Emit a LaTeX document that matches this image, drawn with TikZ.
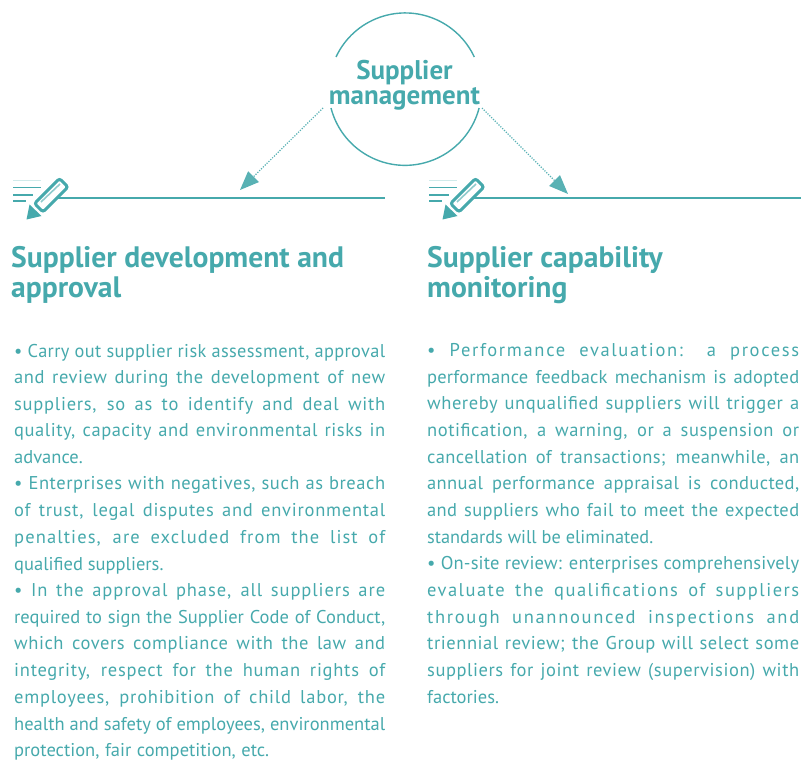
\documentclass[tikz,border=0pt]{standalone}
\usepackage{fontspec}
\setmainfont{PT Sans}
\usepackage{graphicx}
\usetikzlibrary{arrows.meta}
\definecolor{teal1}{HTML}{46A9AC}
\newsavebox{\fitbox}
\newcommand{\fitline}[2]{\sbox{\fitbox}{#2}\ifdim\wd\fitbox>#1\resizebox{#1}{\height}{\usebox{\fitbox}}\else\makebox[#1][s]{#2}\fi}
\newcommand{\bodyline}[6]{\node[bodytext] (#1) at (#2,#3) {\addfontfeature{LetterSpace=#5}\fitline{#4}{#6}};}
\newcommand{\plainline}[4]{\node[bodytext] (#1) at (#2,#3) {#4};}
\newcommand{\pencilicon}[1]{
  \begin{scope}[shift={(#1,0)}]
    \draw[teal1!25,line width=1pt] (13,180.5) -- (41,180.5);
    \draw[iconline] (13,187.5) -- (41,187.5);
    \draw[iconline] (13,195) -- (33,195);
    \draw[iconline] (13,201) -- (26,201);
    \draw[teal1,line width=3pt,rounded corners=2.5pt,fill=white] (59.5,178.5) -- (68,187) -- (43,212) -- (34.5,203.5) -- cycle;
    \draw[teal1!60,line width=1.6pt] (41,202) -- (60,184);
    \fill[teal1] (29.5,204.5) -- (41.5,216) -- (26.5,219.5) -- cycle;
  \end{scope}}
\tikzset{
  bodytext/.style={anchor=base west,inner sep=0pt,text=teal1,font=\fontsize{18.5}{22}\selectfont},
  headtext/.style={anchor=north west,inner sep=0pt,align=left,text=teal1,font=\fontsize{29.6}{30}\selectfont\bfseries},
  hubtext/.style={inner sep=0pt,align=center,text=teal1,font=\fontsize{27}{25}\selectfont\bfseries},
  iconline/.style={teal1,line width=1.5pt},
  ruleline/.style={teal1,line width=1.6pt},
  ringline/.style={teal1,line width=1.4pt},
  flowarrow/.style={teal1!90,line width=1.2pt,dash pattern=on 1.2pt off 1.4pt,-{Triangle[length=19pt,width=15pt,fill=teal1!90]}}
}
\begin{document}
\begin{tikzpicture}[x=1pt,y=-1pt]
\useasboundingbox (0,0) rectangle (803,760);
% ring
\draw[ringline] (336,57) arc[start angle=205,end angle=335,radius=76.3];
\draw[ringline] (331,108) arc[start angle=165.5,end angle=14.5,radius=76.5];
\node[hubtext] (hub) at (404.5,85.5) {Supplier\\management};
\coordinate (startL) at (323,108);
\coordinate (endL) at (240,190);
\coordinate (startR) at (482,108);
\coordinate (endR) at (568,194);
\draw[flowarrow] (startL) -- (endL);
\draw[flowarrow] (startR) -- (endR);
% rules and icons
\coordinate (ruleLa) at (58,198);
\coordinate (ruleLb) at (385,198);
\coordinate (ruleRa) at (474,198);
\coordinate (ruleRb) at (801,198);
\draw[ruleline] (ruleLa) -- (ruleLb);
\draw[ruleline] (ruleRa) -- (ruleRb);
\pencilicon{0}
\pencilicon{416}
% headings
\node[headtext] (headL) at (11,246) {Supplier development and\\approval};
\node[headtext] (headR) at (427,246) {Supplier capability\\monitoring};
% left column
\bodyline{l1}{14}{357}{371pt}{2}{• Carry out supplier risk assessment, approval}
\bodyline{l2}{14}{383.5}{371pt}{3}{and review during the development of new}
\bodyline{l3}{14}{410}{371pt}{4}{suppliers, so as to identify and deal with}
\bodyline{l4}{14}{436.5}{371pt}{3}{quality, capacity and environmental risks in}
\plainline{l5}{14}{463}{advance.}
\bodyline{l6}{14}{489.5}{371pt}{3}{• Enterprises with negatives, such as breach}
\bodyline{l7}{14}{516}{371pt}{4}{of trust, legal disputes and environmental}
\bodyline{l8}{14}{543}{371pt}{6}{penalties, are excluded from the list of}
\plainline{l9}{14}{570}{qualified suppliers.}
\bodyline{l10}{14}{596.5}{371pt}{5}{• In the approval phase, all suppliers are}
\bodyline{l11}{14}{623}{371pt}{0}{required to sign the Supplier Code of Conduct,}
\bodyline{l12}{14}{649.5}{371pt}{3}{which covers compliance with the law and}
\bodyline{l13}{14}{676.5}{371pt}{4}{integrity, respect for the human rights of}
\bodyline{l14}{14}{703}{371pt}{4}{employees, prohibition of child labor, the}
\bodyline{l15}{14}{730}{371pt}{0}{health and safety of employees, environmental}
\bodyline{l16}{14}{756}{255pt}{0}{protection, fair competition, etc.}
% right column
\bodyline{r1}{427}{356.5}{372pt}{9}{• Performance evaluation: a process}
\bodyline{r2}{427}{383}{372pt}{1}{performance feedback mechanism is adopted}
\bodyline{r3}{427}{409.5}{372pt}{3}{whereby unqualified suppliers will trigger a}
\bodyline{r4}{427}{436.5}{372pt}{3}{notification, a warning, or a suspension or}
\bodyline{r5}{427}{463}{372pt}{2}{cancellation of transactions; meanwhile, an}
\bodyline{r6}{427}{489.5}{372pt}{2}{annual performance appraisal is conducted,}
\bodyline{r7}{427}{516}{372pt}{2}{and suppliers who fail to meet the expected}
\bodyline{r8}{427}{543}{226pt}{0}{standards will be eliminated.}
\bodyline{r9}{427}{569.5}{372pt}{1}{• On-site review: enterprises comprehensively}
\bodyline{r10}{427}{596.5}{372pt}{8}{evaluate the qualifications of suppliers}
\bodyline{r11}{427}{623}{372pt}{9}{through unannounced inspections and}
\bodyline{r12}{427}{649.5}{372pt}{3}{triennial review; the Group will select some}
\bodyline{r13}{427}{676.5}{372pt}{3}{suppliers for joint review (supervision) with}
\plainline{r14}{427}{703}{factories.}
\end{tikzpicture}
\end{document}
